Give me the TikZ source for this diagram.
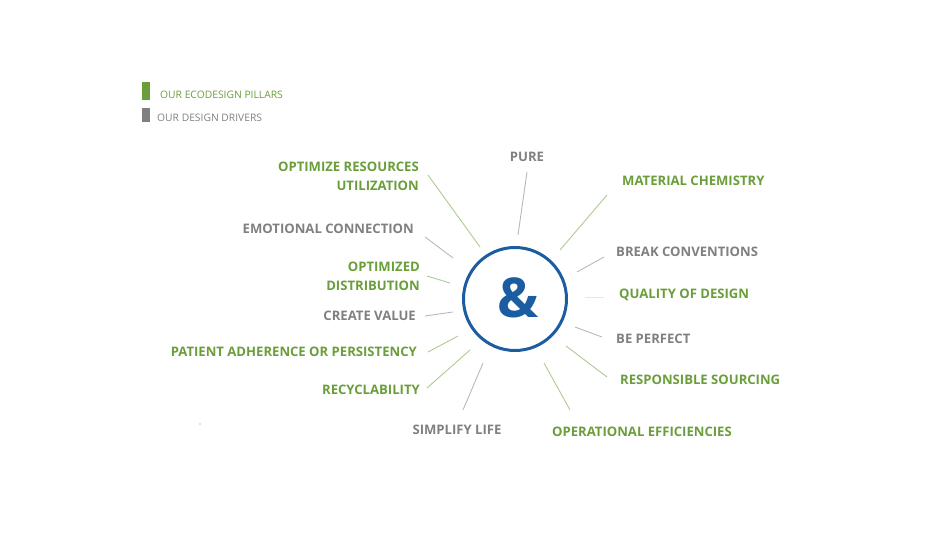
\documentclass[tikz,border=0pt]{standalone}
\usepackage{fontspec}
\setmainfont{Open Sans}
\usetikzlibrary{positioning}
\definecolor{pillargreen}{RGB}{106,158,58}
\definecolor{drivergrey}{RGB}{128,128,128}
\definecolor{hubblue}{RGB}{28,92,160}
\begin{document}
\begin{tikzpicture}[x=1pt,y=-1pt,
    label/.style={inner sep=0pt, font=\bfseries\fontsize{13.1}{19}\selectfont},
    pillar/.style={label, text=pillargreen},
    driver/.style={label, text=drivergrey},
    legend/.style={inner sep=0pt, anchor=west, font=\fontsize{10.3}{12}\selectfont},
    pillarline/.style={draw=pillargreen!55, line width=0.9pt},
    driverline/.style={draw=drivergrey!55, line width=0.9pt}]
    \useasboundingbox (0,0) rectangle (925,557);

    % legend
    \node[fill=pillargreen, minimum width=8pt, minimum height=18pt, inner sep=0pt] (barpillar) at (146,91) {};
    \node[fill=drivergrey, minimum width=8pt, minimum height=14pt, inner sep=0pt] (bardriver) at (146,115) {};
    \node[legend, text=pillargreen] (legpillar) at (160,95) {OUR ECODESIGN PILLARS};
    \node[legend, text=drivergrey] (legdriver) at (157,118) {OUR DESIGN DRIVERS};

    % hub
    \node[circle, draw=hubblue, line width=3pt, minimum size=103pt] (hub) at (515,299) {};
    \node[text=hubblue, inner sep=0pt, font=\bfseries\fontsize{55}{55}\selectfont] (amp) at (518,297.5) {\&};

    % labels
    \node[pillar, anchor=east, align=right] (optres) at (419,176.5) {OPTIMIZE RESOURCES\\UTILIZATION};
    \node[driver, anchor=east] (emotion) at (414,229) {EMOTIONAL CONNECTION};
    \node[pillar, anchor=east, align=right] (optdist) at (420,276) {OPTIMIZED\\DISTRIBUTION};
    \node[driver, anchor=east] (value) at (416,316) {CREATE VALUE};
    \node[pillar, anchor=east] (patient) at (417,352) {PATIENT ADHERENCE OR PERSISTENCY};
    \node[pillar, anchor=east] (recycle) at (420,390) {RECYCLABILITY};
    \node[driver] (pure) at (527,157) {PURE};
    \node[driver] (simplify) at (457,430) {SIMPLIFY LIFE};
    \node[pillar, anchor=west] (material) at (622,181) {MATERIAL CHEMISTRY};
    \node[driver, anchor=west] (break) at (616,252) {BREAK CONVENTIONS};
    \node[pillar, anchor=west] (quality) at (619,295) {QUALITY OF DESIGN};
    \node[driver, anchor=west] (perfect) at (616,339) {BE PERFECT};
    \node[pillar, anchor=west] (sourcing) at (620,380) {RESPONSIBLE SOURCING};
    \node[pillar, anchor=west] (operation) at (552,432) {OPERATIONAL EFFICIENCIES};

    % spokes
    \foreach \n/\ax/\ay/\bx/\by/\s in {
        optres/480/247/428/175/pillarline,
        pure/518/235/527/172/driverline,
        material/560/250/607/195/pillarline,
        break/577/272/604/257/driverline,
        perfect/575/327/602/337/driverline,
        sourcing/566/346/607/377/pillarline,
        operation/544/363/570/410/pillarline,
        simplify/483/363/463/410/driverline,
        recycle/470/350/427/388/pillarline,
        patient/458/336/428/352/pillarline,
        value/453/312/425/316/driverline,
        optdist/450/283/427/276/pillarline,
        emotion/453/258/425/237/driverline}{
        \coordinate (\n-in) at (\ax,\ay);
        \coordinate (\n-out) at (\bx,\by);
        \draw[\s] (\n-in) -- (\n-out);
    }
    \coordinate (quality-in) at (585,297);
    \coordinate (quality-out) at (604,297);
    \draw[draw=pillargreen!20, line width=0.9pt] (quality-in) -- (quality-out);

    \fill[drivergrey] (200,424) circle (0.6pt);
\end{tikzpicture}
\end{document}
